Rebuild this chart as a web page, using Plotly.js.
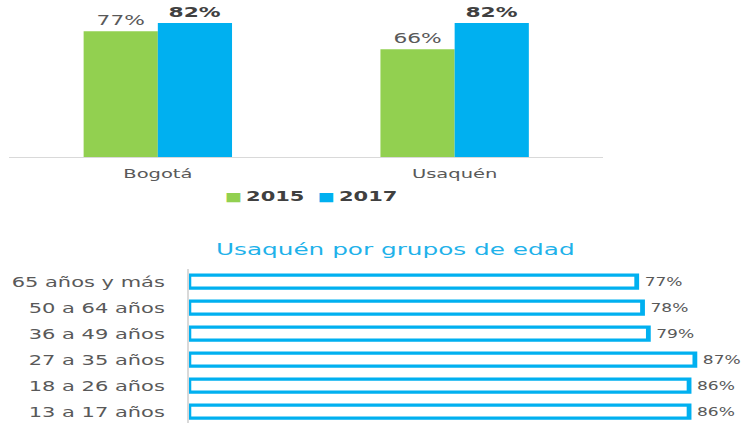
<!DOCTYPE html>
<html>
<head>
<meta charset="utf-8">
<script src="https://cdn.plot.ly/plotly-3.0.1.min.js"></script>
<style>
  html, body { margin: 0; padding: 0; background: #ffffff; overflow: hidden; }
  #wrap { width: 754px; height: 423px; overflow: hidden; }
  #chart { width: 503px; height: 423px; transform: scaleX(1.49901); transform-origin: 0 0; }
</style>
</head>
<body>
<div id="wrap"><div id="chart"></div></div>
<script>
// ---- data ----
const places = ['Bogotá', 'Usaquén'];
const values2015 = [77, 66];
const values2017 = [82, 82];
const seriesNames = ['2015', '2017'];

const ageGroups = ['13 a 17 años', '18 a 26 años', '27 a 35 años', '36 a 49 años', '50 a 64 años', '65 años y más'];
const ageValues = [86, 86, 87, 79, 78, 77];
const ageTitle = 'Usaquén por grupos de edad';

// ---- styles ----
const green = '#92d050';
const blue = '#00b0f0';
const gray = '#595959';
const dark = '#404040';
const font = 'DejaVu Sans, Verdana, sans-serif';

const traces = [
  {
    type: 'bar', name: seriesNames[0], x: places, y: values2015,
    xaxis: 'x', yaxis: 'y',
    marker: { color: green },
    texttemplate: '%{y}%', textposition: 'outside', cliponaxis: false,
    textfont: { family: font, size: 14.5, color: gray }
  },
  {
    type: 'bar', name: seriesNames[1], x: places, y: values2017,
    xaxis: 'x', yaxis: 'y',
    marker: { color: blue },
    texttemplate: '%{y}%', textposition: 'outside', cliponaxis: false,
    textfont: { family: font, size: 14.5, color: dark, weight: 700 }
  },
  {
    type: 'bar', orientation: 'h', x: ageValues, y: ageGroups,
    xaxis: 'x2', yaxis: 'y2',
    marker: { color: '#ffffff', line: { color: blue, width: 3.2 } },
    texttemplate: '\u2009%{x}%', textposition: 'outside', cliponaxis: false,
    textfont: { family: font, size: 14, color: gray }
  }
];

const legendText =
  '<span style="color:' + green + ';font-size:12px">■</span>\u2009<b>' + seriesNames[0] + '</b>\u00a0\u00a0' +
  '<span style="color:' + blue + ';font-size:12px">■</span>\u2009<b>' + seriesNames[1] + '</b>';

const layout = {
  width: 503, height: 423,
  margin: { l: 0, r: 0, t: 0, b: 0 },
  paper_bgcolor: '#ffffff', plot_bgcolor: 'rgba(0,0,0,0)',
  showlegend: false,
  barmode: 'group', bargap: 0.5, bargroupgap: 0,
  font: { family: font, color: gray },
  xaxis: {
    domain: [0.0125, 0.7998], anchor: 'y',
    range: [-0.5, 1.5], fixedrange: true,
    showline: true, linecolor: '#d9d9d9', linewidth: 1.2,
    showgrid: false, zeroline: false, ticks: '',
    ticklabelstandoff: 4,
    tickfont: { family: font, size: 13, color: gray }
  },
  yaxis: {
    domain: [0.6288, 1], anchor: 'x',
    range: [0, 96.1], visible: false, fixedrange: true
  },
  xaxis2: {
    domain: [0.2505, 0.9833], anchor: 'y2',
    range: [0, 95], visible: false, fixedrange: true
  },
  yaxis2: {
    domain: [0, 0.3648], anchor: 'x2',
    type: 'category', categoryorder: 'array', categoryarray: ageGroups,
    range: [-0.435, 5.5], fixedrange: true,
    showline: true, linecolor: '#d9d9d9', linewidth: 1.2,
    showgrid: false, zeroline: false, ticks: '',
    ticklabelstandoff: 12,
    tickfont: { family: font, size: 14, color: gray }
  },
  annotations: [
    {
      xref: 'paper', yref: 'paper', x: 0.523, y: 0.409,
      xanchor: 'center', yanchor: 'middle', showarrow: false,
      text: ageTitle, font: { family: font, size: 16.5, color: '#1fb2ea' }
    },
    {
      xref: 'paper', yref: 'paper', x: 0.412, y: 0.5366,
      xanchor: 'center', yanchor: 'middle', showarrow: false,
      text: legendText, font: { family: font, size: 14, color: dark }
    }
  ]
};

Plotly.newPlot('chart', traces, layout, { staticPlot: true, displayModeBar: false });
</script>
</body>
</html>
